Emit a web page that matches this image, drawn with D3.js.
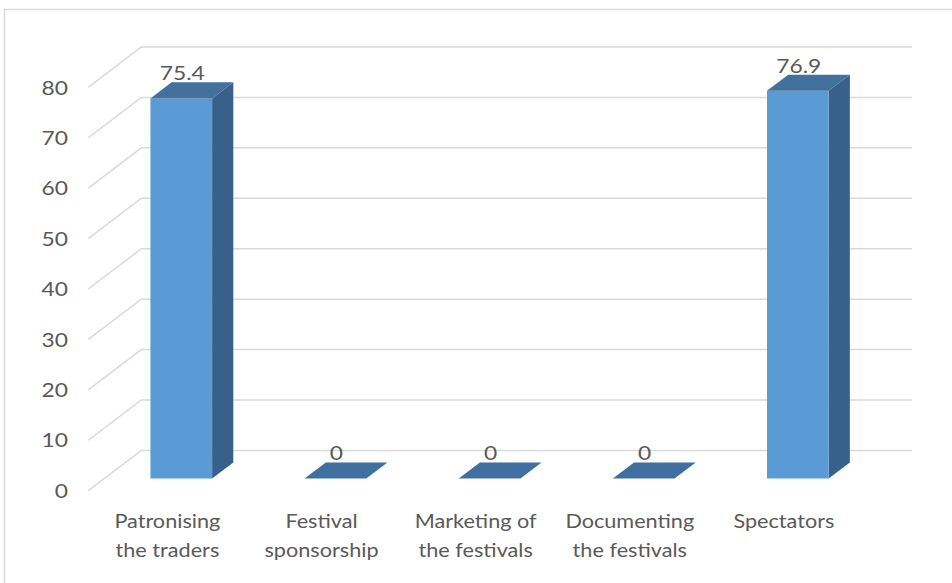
<!DOCTYPE html>
<html>
<head>
<meta charset="utf-8">
<script src="https://cdn.jsdelivr.net/npm/d3@7"></script>
<style>
  html, body { margin: 0; padding: 0; background: #ffffff; }
  svg { display: block; }
  text { font-family: Lato, "Open Sans", sans-serif; fill: #595959; }
</style>
</head>
<body>
<svg id="chart" width="952" height="583"></svg>
<script>
// Share of respondents by role (%)
const categories = [
  "Patronising the traders",
  "Festival sponsorship",
  "Marketing of the festivals",
  "Documenting the festivals",
  "Spectators"
];
const categoryLines = [
  ["Patronising", "the traders"],
  ["Festival", "sponsorship"],
  ["Marketing of", "the festivals"],
  ["Documenting", "the festivals"],
  ["Spectators"]
];
const values = [75.4, 0, 0, 0, 76.9];
const yTicks = [0, 10, 20, 30, 40, 50, 60, 70, 80];

const svg = d3.select("#chart");

// Oblique projection: depth 0 = front plane, depth 1 = back wall
const depthDX = 53, depthDY = -40.3;
const proj = (x, y, d) => [x + d * depthDX, y + d * depthDY];

const x = d3.scaleBand().domain(categories).range([88.3, 859]).paddingInner(0).paddingOuter(0);
const y = d3.scaleLinear().domain([0, 80]).range([490.7, 87.3]);

const barFront = 0.3, barBack = 0.7, barWidthFrac = 0.4;
const colors = { front: "#5B9BD5", top: "#41719C", side: "#37608A", flat: "#3F6FA0" };
const textStretch = 1.14; // wide-set lettering

// Outer frame
svg.append("rect")
  .attr("x", 4.5).attr("y", 9.5)
  .attr("width", 1000).attr("height", 1000)
  .attr("fill", "none").attr("stroke", "#d9d9d9").attr("stroke-width", 1.5);

// Gridlines: diagonal on the left side wall, then across the back wall
const line = d3.line();
svg.append("g").selectAll("path")
  .data(yTicks)
  .join("path")
  .attr("d", t => line([
    proj(x.range()[0], y(t), 0),
    proj(x.range()[0], y(t), 1),
    proj(x.range()[1], y(t), 1)
  ]))
  .attr("fill", "none")
  .attr("stroke", "#d9d9d9")
  .attr("stroke-width", 1.5);

// Y axis labels
svg.append("g").selectAll("text")
  .data(yTicks)
  .join("text")
  .attr("transform", t => `translate(68,${y(t)}) scale(${textStretch},1)`)
  .attr("dy", "0.36em")
  .attr("text-anchor", "end")
  .attr("font-size", 20)
  .text(d => d);

// Bars
const bars = svg.append("g").selectAll("g")
  .data(values.map((v, i) => ({ v, c: categories[i] })))
  .join("g");

bars.each(function (d) {
  const g = d3.select(this);
  const cx = x(d.c) + x.bandwidth() / 2;
  const w = x.bandwidth() * barWidthFrac;
  const x0 = cx - w / 2, x1 = cx + w / 2;
  const yb = y(0), yt = y(d.v);
  const poly = pts => "M" + pts.map(p => p.join(",")).join("L") + "Z";
  if (d.v > 0) {
    // side face
    g.append("path").attr("fill", colors.side).attr("d", poly([
      proj(x1, yb, barFront), proj(x1, yb, barBack), proj(x1, yt, barBack), proj(x1, yt, barFront)
    ]));
    // front face
    g.append("path").attr("fill", colors.front).attr("d", poly([
      proj(x0, yb, barFront), proj(x1, yb, barFront), proj(x1, yt, barFront), proj(x0, yt, barFront)
    ]));
    // top face
    g.append("path").attr("fill", colors.top).attr("d", poly([
      proj(x0, yt, barFront), proj(x1, yt, barFront), proj(x1, yt, barBack), proj(x0, yt, barBack)
    ]));
  } else {
    g.append("path").attr("fill", colors.flat).attr("d", poly([
      proj(x0, yt, barFront), proj(x1, yt, barFront), proj(x1, yt, barBack), proj(x0, yt, barBack)
    ]));
  }
  // value label above the back edge of the top face
  const lx = proj(cx, yt, barFront)[0] + 1;
  const ly = proj(cx, yt, barBack)[1] - 2;
  g.append("text")
    .attr("transform", `translate(${lx},${ly}) scale(${textStretch},1)`)
    .attr("text-anchor", "middle")
    .attr("font-size", 20)
    .text(d.v);
});

// Category labels
const labels = svg.append("g").selectAll("text")
  .data(categories)
  .join("text")
  .attr("text-anchor", "middle")
  .attr("font-size", 19)
  .attr("transform", c => `translate(${x(c) + x.bandwidth() / 2 + 2},528) scale(${textStretch},1)`);

labels.selectAll("tspan")
  .data((c, i) => categoryLines[i])
  .join("tspan")
  .attr("x", 0)
  .attr("y", (d, i) => i * 29)
  .text(d => d);
</script>
</body>
</html>
